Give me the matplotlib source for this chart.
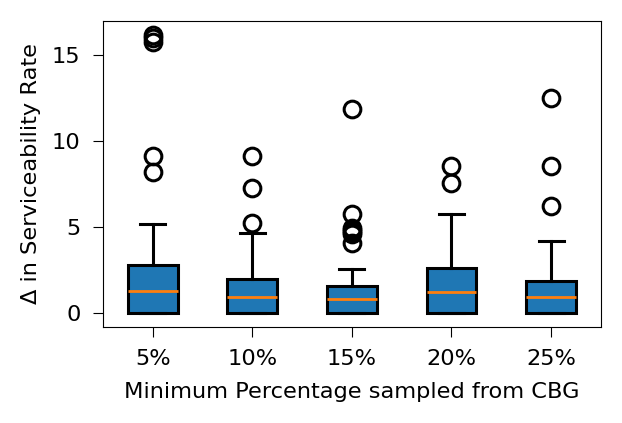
import matplotlib
matplotlib.use("Agg")
import matplotlib.pyplot as plt

labels = ["5%", "10%", "15%", "20%", "25%"]
whislo = [0.0, 0.0, 0.0, 0.0, 0.0]
q1 = [0.0, 0.0, 0.0, 0.0, 0.0]
med = [1.26, 0.93, 0.81, 1.20, 0.93]
q3 = [2.78, 1.96, 1.57, 2.58, 1.84]
whishi = [5.19, 4.67, 2.53, 5.78, 4.20]
fliers = [
    [8.18, 9.11, 15.8, 16.0, 16.2],
    [5.25, 7.26, 9.11],
    [4.05, 4.57, 4.70, 4.80, 4.92, 5.76, 11.88],
    [7.56, 8.57],
    [6.19, 8.57, 12.49],
]

stats = []
for i, lab in enumerate(labels):
    stats.append({
        'label': lab, 'whislo': whislo[i], 'q1': q1[i], 'med': med[i],
        'q3': q3[i], 'whishi': whishi[i], 'fliers': fliers[i],
    })

plt.rcParams['font.size'] = 16.2
fig = plt.figure(figsize=(6.22, 4.23), dpi=100)
ax = fig.add_axes([0.1656, 0.2277, 0.966 - 0.1656, 0.951 - 0.2277])

lw = 2.2
ax.bxp(stats, patch_artist=True,
       boxprops=dict(facecolor='#1f77b4', edgecolor='black', linewidth=lw),
       medianprops=dict(color='#ff7f0e', linewidth=2),
       whiskerprops=dict(color='black', linewidth=lw),
       capprops=dict(color='black', linewidth=lw),
       flierprops=dict(marker='o', markersize=12, markerfacecolor='none',
                       markeredgecolor='black', markeredgewidth=2.2))

ax.tick_params(length=7.2, pad=9)
ax.set_xlabel("Minimum Percentage sampled from CBG", labelpad=9)
ax.set_ylabel("Δ in Serviceability Rate", labelpad=8)

fig.savefig("out.png", dpi=100)
